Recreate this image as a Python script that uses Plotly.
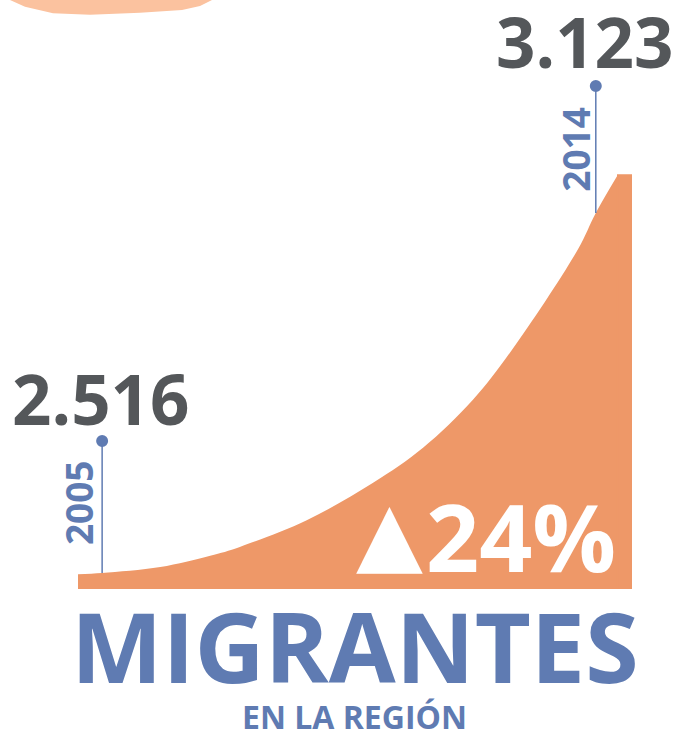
import plotly.graph_objects as go

# ---- data ----
years = [2005, 2014]
migrants = [2516, 3123]          # thousands of migrants
change_label = "24%"
title = "MIGRANTES"
subtitle = "EN LA REGIÓN"

# stylised growth curve (year, value)
curve_years = [2004.56, 2005, 2006.06, 2006.97, 2007.51, 2008.73, 2009.94,
               2010.85, 2011.76, 2012.47, 2013.67, 2014, 2014.40]
curve_vals = [2514, 2516, 2526, 2545, 2560, 2605, 2668,
              2727, 2808, 2892, 3061, 3123, 3187]
# flat top at the right end
top_years = [2014.40, 2014.66]
top_vals = [3187, 3187]

# ---- style ----
ORANGE = "#EE9868"
PEACH = "#FBC29F"
BLUE = "#5F7BB2"
GREY = "#54575A"
W, H = 685, 730
ML, MR, MT, MB = 78, 53, 0, 141
X_RANGE = [curve_years[0], top_years[-1]]
Y_RANGE = [2489.0, 3482.1]
BASE = Y_RANGE[0]

fig = go.Figure()
# baseline + curve area
fig.add_trace(go.Scatter(x=[curve_years[0], curve_years[-1]], y=[BASE, BASE],
                         mode="lines", line=dict(width=0, color=ORANGE),
                         hoverinfo="skip", showlegend=False))
fig.add_trace(go.Scatter(x=curve_years, y=curve_vals, mode="lines",
                         line=dict(width=0, color=ORANGE, shape="spline", smoothing=1.0),
                         fill="tonexty", fillcolor=ORANGE,
                         hoverinfo="skip", showlegend=False))
# flat top block (closed polygon, outlined to hide the seam)
fig.add_trace(go.Scatter(x=[top_years[0], top_years[1], top_years[1], top_years[0], top_years[0]],
                         y=[BASE, BASE, top_vals[1], top_vals[0], BASE],
                         mode="lines", fill="toself", fillcolor=ORANGE,
                         line=dict(width=1.5, color=ORANGE),
                         hoverinfo="skip", showlegend=False))

# paper helper for decoration
pw, ph = W - ML - MR, H - MT - MB
def px(x):
    return (x - ML) / pw
def py(y):
    return (H - MB - y) / ph

# peach blob at top-left
blob = [(6, -8), (10, 0), (25, 6.7), (53, 13.3), (90, 14.7), (140, 12.7),
        (182, 10), (200, 6), (212, 0), (216, -8)]
path = "M " + " L ".join(f"{px(a):.4f},{py(b):.4f}" for a, b in blob) + " Z"
fig.add_shape(type="path", path=path, xref="paper", yref="paper",
              fillcolor=PEACH, line=dict(width=0), layer="below")

stems = [132, 127]
for yr, val, stem in zip(years, migrants, stems):
    fig.add_shape(type="line", xref="x", yref="y", ysizemode="pixel",
                  yanchor=val, x0=yr, x1=yr, y0=0, y1=stem,
                  line=dict(color=BLUE, width=1.5))
    fig.add_shape(type="circle", xref="x", yref="y", xsizemode="pixel",
                  ysizemode="pixel", xanchor=yr, yanchor=val,
                  x0=-6, x1=6, y0=stem - 6, y1=stem + 6,
                  fillcolor=BLUE, line=dict(width=0))

label_shift = [(-1, 175), (-11, 172)]
year_shift = [(-23, 70), (-20, 64)]
for (yr, val), (lx, ly), (yx, yy) in zip(zip(years, migrants), label_shift, year_shift):
    txt = f"{val:,}".replace(",", ".")
    fig.add_annotation(x=yr, y=val, xref="x", yref="y", text=txt, showarrow=False,
                       xshift=lx, yshift=ly, xanchor="center", yanchor="middle",
                       font=dict(family="Open Sans", size=69, color=GREY, weight=700))
    fig.add_annotation(x=yr, y=val, xref="x", yref="y", text=str(yr), showarrow=False,
                       xshift=yx, yshift=yy, xanchor="center", yanchor="middle",
                       textangle=-90,
                       font=dict(family="Open Sans", size=37, color=BLUE, weight=700))

# change label
fig.add_annotation(x=px(389), y=py(533), xref="paper", yref="paper", text="▲",
                   showarrow=False, xanchor="center", yanchor="middle",
                   font=dict(family="DejaVu Sans", size=87, color="white"))
fig.add_annotation(x=px(424), y=py(536), xref="paper", yref="paper", text=change_label,
                   showarrow=False, xanchor="left", yanchor="middle",
                   font=dict(family="Open Sans", size=93, color="white", weight=700))

fig.add_annotation(x=px(355), y=py(645), xref="paper", yref="paper", text=title,
                   showarrow=False, xanchor="center", yanchor="middle",
                   font=dict(family="Open Sans", size=97, color=BLUE, weight=700))
fig.add_annotation(x=px(354), y=py(716), xref="paper", yref="paper", text=subtitle,
                   showarrow=False, xanchor="center", yanchor="middle",
                   font=dict(family="Open Sans", size=32, color=BLUE, weight=700))

fig.update_xaxes(range=X_RANGE, visible=False, showgrid=False, zeroline=False, fixedrange=True)
fig.update_yaxes(range=Y_RANGE, visible=False, showgrid=False, zeroline=False, fixedrange=True)
fig.update_layout(width=W, height=H, autosize=False,
                  margin=dict(l=ML, r=MR, t=MT, b=MB, pad=0),
                  paper_bgcolor="white", plot_bgcolor="white",
                  showlegend=False)
fig.write_html("out.html", config={"displayModeBar": False},
               post_script="document.body.style.margin='0';")
